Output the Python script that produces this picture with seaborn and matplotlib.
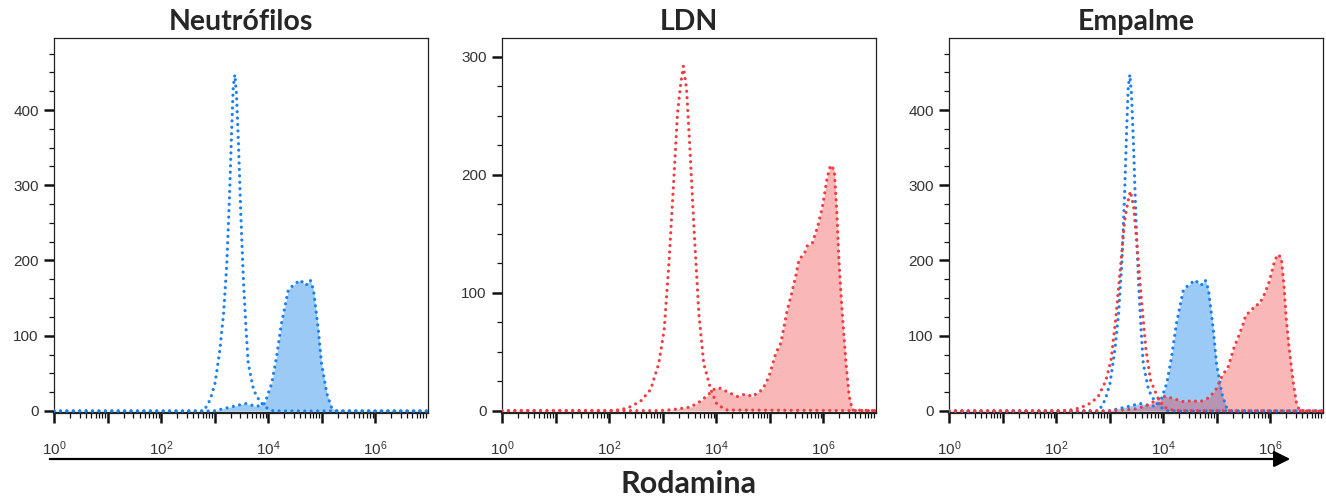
import matplotlib
matplotlib.use("Agg")
import matplotlib.pyplot as plt
import numpy as np
import seaborn as sns

# histogram traces, x as log10(Rodamina), y as counts
neut_unst_logx = [0.0, 2.80, 2.92, 3.01, 3.10, 3.17, 3.23, 3.28, 3.32, 3.35, 3.38,
                  3.41, 3.45, 3.49, 3.54, 3.59, 3.63, 3.73, 3.85, 3.98, 4.10, 7.0]
neut_unst_count = [0, 0, 15, 37, 81, 130, 196, 285, 373, 431, 447,
                   422, 351, 263, 174, 108, 63, 28, 12, 4, 0, 0]

neut_st_logx = [0.0, 2.98, 3.35, 3.57, 3.79, 3.94, 4.07, 4.16, 4.25, 4.38, 4.47,
                4.60, 4.71, 4.79, 4.85, 4.94, 5.00, 5.10, 5.19, 5.28, 7.0]
neut_st_count = [0, 0, 6, 10, 6, 10, 37, 72, 116, 161, 167,
                 174, 167, 174, 161, 108, 63, 23, 4, 0, 0]

ldn_unst_logx = [0.0, 2.09, 2.34, 2.59, 2.78, 2.93, 3.03, 3.12, 3.21, 3.28, 3.34,
                 3.39, 3.45, 3.51, 3.59, 3.68, 3.77, 3.90, 4.02, 4.21, 7.0]
ldn_unst_count = [0, 0, 2, 8, 18, 40, 68, 125, 195, 252, 277,
                  292, 272, 224, 153, 82, 40, 18, 5, 0.5, 0]

ldn_st_logx = [0.0, 2.96, 3.21, 3.52, 3.71, 3.84, 3.96, 4.05, 4.21, 4.40, 4.55,
               4.68, 4.87, 4.99, 5.12, 5.21, 5.33, 5.40, 5.49, 5.55, 5.65,
               5.71, 5.80, 5.90, 5.99, 6.08, 6.14, 6.21, 6.26, 6.30, 6.36,
               6.43, 6.49, 6.55, 7.0]
ldn_st_count = [0, 0, 1, 3, 8, 13, 18, 19.5, 16, 12, 14,
                12, 18, 29, 49, 57, 85, 97, 114, 128, 133,
                140, 142, 156, 173, 198, 208, 204, 167, 125, 82,
                40, 12, 0.5, 0]

titles = ["Neutrófilos", "LDN", "Empalme"]
axis_label = "Rodamina"
ymax = [495.7, 315.8, 495.7]
ymin = [-2.7, -2.0, -2.7]
ymajor = [[0, 100, 200, 300, 400], [0, 100, 200, 300], [0, 100, 200, 300, 400]]

blue_line = "#1a80f0"
blue_fill = "#9ccaf7"
red_line = "#f03c40"
red_fill = (0.95, 0.15, 0.15)

sns.set_style("ticks")
plt.rcParams["font.family"] = ["Liberation Sans", "DejaVu Sans"]
plt.rcParams["mathtext.fontset"] = "custom"
plt.rcParams["mathtext.rm"] = "Liberation Sans"
plt.rcParams["mathtext.default"] = "rm"

fig = plt.figure(figsize=(13.26, 5.0), dpi=100)
W, H = 1326, 500
lefts = [54, 502, 949]
axes = [fig.add_axes([l / W, (H - 413) / H, 374 / W, (413 - 38) / H]) for l in lefts]

dots = (0, (0.01, 2.0))


def trace(ax, lx, cnt, lc, fill=None, alpha=1.0):
    x = 10 ** np.asarray(lx)
    if fill is not None:
        ax.fill_between(x, 0, cnt, color=fill, alpha=alpha, lw=0, zorder=2)
    sns.lineplot(x=x, y=cnt, ax=ax, color=lc, lw=2.3, linestyle=dots,
                 dash_capstyle="round", sort=False, zorder=3)


trace(axes[0], neut_unst_logx, neut_unst_count, blue_line)
trace(axes[0], neut_st_logx, neut_st_count, blue_line, blue_fill)

trace(axes[1], ldn_st_logx, ldn_st_count, red_line, red_fill, 0.33)
trace(axes[1], ldn_unst_logx, ldn_unst_count, red_line)

trace(axes[2], neut_unst_logx, neut_unst_count, blue_line)
trace(axes[2], neut_st_logx, neut_st_count, blue_line, blue_fill)
trace(axes[2], ldn_st_logx, ldn_st_count, red_line, red_fill, 0.33)
trace(axes[2], ldn_unst_logx, ldn_unst_count, red_line)

decades = [10.0 ** k for k in range(7)]
dec_labels = [f"$10^{{{k}}}$" if k % 2 == 0 else "" for k in range(7)]

for i, ax in enumerate(axes):
    ax.set_xscale("log")
    ax.set_xlim(1, 10 ** 6.99)
    ax.set_ylim(ymin[i], ymax[i])
    ax.set_xticks(decades)
    ax.set_xticklabels(dec_labels)
    ax.xaxis.set_minor_locator(matplotlib.ticker.LogLocator(base=10, subs=np.arange(2, 10), numticks=20))
    ax.set_yticks(ymajor[i])
    ax.yaxis.set_minor_locator(matplotlib.ticker.MultipleLocator(25))
    ax.tick_params(axis="both", which="major", length=7, width=1.8, color="#111111",
                   labelsize=11, labelcolor="#333333")
    ax.tick_params(axis="both", which="minor", length=3.6, width=0.9, color="#111111")
    ax.tick_params(axis="x", which="major", pad=12, labelsize=11)
    ax.tick_params(axis="y", which="major", pad=4)
    for s in ax.spines.values():
        s.set_linewidth(0.9)
        s.set_color("#222222")
    ax.spines["bottom"].set_linewidth(1.6)
    ax.set_xlabel("")
    ax.set_ylabel("")
    ax.set_title(titles[i], fontsize=20.5, fontweight="bold", family=["Lato", "DejaVu Sans"], pad=6)

fig.add_artist(matplotlib.patches.FancyArrowPatch(
    (47 / W, 1 - 459 / H), (1293 / W, 1 - 459 / H), transform=fig.transFigure,
    arrowstyle="-|>,head_length=7,head_width=3.5", color="black", lw=1.6,
    mutation_scale=1.4))
fig.text(688 / W, 1 - 493 / H, axis_label, ha="center", va="baseline",
         fontsize=22, fontweight="bold", family=["Lato", "DejaVu Sans"])

fig.savefig("out.png", dpi=100)
